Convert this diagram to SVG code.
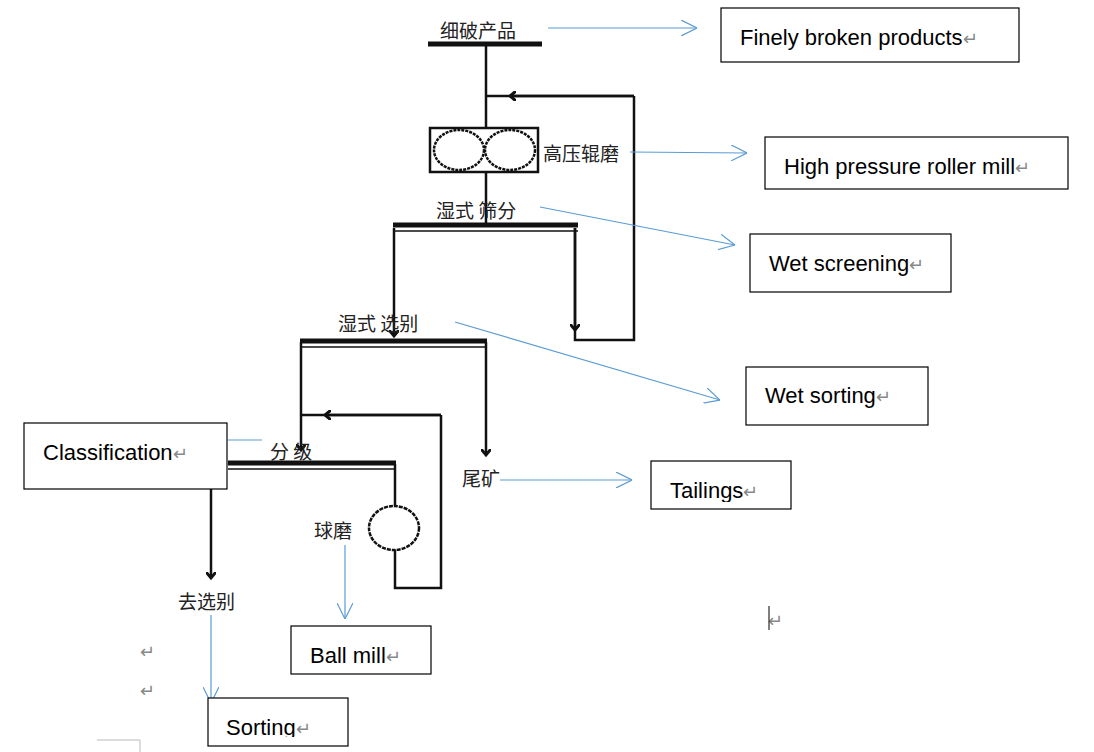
<svg xmlns="http://www.w3.org/2000/svg" width="1094" height="752" viewBox="0 0 1094 752">
<style>
.k{stroke:#111;stroke-width:2.5;fill:none}
.bar{stroke:#111;stroke-width:5}
.c{font-family:"Noto Sans CJK SC",sans-serif;font-size:19px;fill:#222}
.e{font-family:"Liberation Sans",Arial,sans-serif;font-size:22px;fill:#000}
.r{font-family:"Liberation Sans",Arial,sans-serif;font-size:18px;fill:#888}
.b{stroke:#5B9BD5;stroke-width:1.2;fill:none}
.box{fill:#fff;stroke:#000;stroke-width:1.2}
</style>
<defs>
<marker id="a" viewBox="0 0 10 10" refX="6" refY="5" markerWidth="10" markerHeight="10" orient="auto" markerUnits="userSpaceOnUse"><path d="M0,0L6,5L0,10" fill="none" stroke="#111" stroke-width="3"/></marker>
<marker id="o" viewBox="0 0 16 16" refX="16" refY="8" markerWidth="16" markerHeight="16" orient="auto" markerUnits="userSpaceOnUse"><path d="M0,0L16,8L0,16" fill="none" stroke="#5B9BD5" stroke-width="1.2"/></marker>
</defs>
<g id="connectors">
<path class="k" d="M486,44V128M486,172V224"/>
<path class="k" d="M634,96H486" />
<path class="k" d="M634,96H510" marker-end="url(#a)"/>
<path class="k" d="M634,96V340H575V228"/>
<path class="k" d="M575,228V330" marker-end="url(#a)"/>
<path class="k" d="M394,228V336" marker-end="url(#a)"/>
<path class="k" d="M301,342V450" marker-end="url(#a)"/>
<path class="k" d="M486,342V455" marker-end="url(#a)"/>
<path class="k" d="M441,415H301"/>
<path class="k" d="M441,415H325" marker-end="url(#a)"/>
<path class="k" d="M441,415V588H395V550M395,506V464"/>
<path class="k" d="M211,467V578" marker-end="url(#a)"/>
<line class="b" x1="548" y1="28" x2="697" y2="28" marker-end="url(#o)"/>
<line class="b" x1="630" y1="152" x2="747" y2="153" marker-end="url(#o)"/>
<line class="b" x1="540" y1="207" x2="735" y2="245" marker-end="url(#o)"/>
<line class="b" x1="455" y1="322" x2="720" y2="400" marker-end="url(#o)"/>
<line class="b" x1="228" y1="440" x2="262" y2="440"/>
<line class="b" x1="500" y1="480" x2="632" y2="480" marker-end="url(#o)"/>
<line class="b" x1="345" y1="545" x2="345" y2="619" marker-end="url(#o)"/>
<line class="b" x1="211" y1="615" x2="211" y2="703" marker-end="url(#o)"/>
</g>
<g id="n-fine"><line class="bar" x1="428" y1="44" x2="542" y2="44"/><text class="c" x="440" y="38">细破产品</text></g>
<g id="n-hpgr"><rect class="k" x="430" y="128" width="108" height="44" fill="#fff"/><ellipse class="k" cx="459" cy="150" rx="25" ry="20" stroke-dasharray="3 1"/><ellipse class="k" cx="510" cy="150" rx="25" ry="20" stroke-dasharray="3 1"/><text class="c" x="543" y="161">高压辊磨</text></g>
<g id="n-screen"><line class="bar" x1="393" y1="225" x2="578" y2="225"/><line stroke="#111" stroke-width="1.5" x1="394" y1="231" x2="578" y2="231"/><text class="c" x="436" y="218">湿式 筛分</text></g>
<g id="n-sort"><line class="bar" x1="300" y1="341" x2="487" y2="341"/><line stroke="#111" stroke-width="1.5" x1="301" y1="347" x2="486" y2="347"/><text class="c" x="338" y="331">湿式 选别</text></g>
<g id="n-class"><line class="bar" x1="228" y1="463" x2="396" y2="463"/><line stroke="#111" stroke-width="1.5" x1="228" y1="469" x2="395" y2="469"/><text class="c" x="270" y="459">分  级</text></g>
<g id="n-ball"><ellipse class="k" cx="394" cy="528" rx="25" ry="22" stroke-dasharray="4 1"/><text class="c" x="314" y="538">球磨</text></g>
<g id="n-tail"><text class="c" x="462" y="486">尾矿</text></g>
<g id="n-go"><text class="c" x="178" y="609">去选别</text></g>
<g id="b-fine"><rect class="box" x="721" y="8" width="298" height="54"/><text class="e" x="740" y="45">Finely broken products<tspan class="r">↵</tspan></text></g>
<g id="b-hpgr"><rect class="box" x="765" y="137" width="303" height="52"/><text class="e" x="784" y="174">High pressure roller mill<tspan class="r">↵</tspan></text></g>
<g id="b-screen"><rect class="box" x="750" y="234" width="201" height="58"/><text class="e" x="769" y="271">Wet screening<tspan class="r">↵</tspan></text></g>
<g id="b-sort"><rect class="box" x="746" y="367" width="182" height="58"/><text class="e" x="765" y="403">Wet sorting<tspan class="r">↵</tspan></text></g>
<g id="b-class"><rect class="box" x="24" y="423" width="203" height="66"/><text class="e" x="43" y="460">Classification<tspan class="r">↵</tspan></text></g>
<g id="b-tail"><rect class="box" x="651" y="461" width="140" height="48"/><svg x="651" y="461" width="140" height="41" overflow="hidden"><text class="e" x="19" y="37">Tailings<tspan class="r">↵</tspan></text></svg></g>
<g id="b-ball"><rect class="box" x="291" y="626" width="140" height="48"/><text class="e" x="310" y="663">Ball mill<tspan class="r">↵</tspan></text></g>
<g id="b-sorting"><rect class="box" x="208" y="698" width="140" height="48"/><svg x="208" y="698" width="140" height="39" overflow="hidden"><text class="e" x="18" y="37">Sorting<tspan class="r">↵</tspan></text></svg></g>
<text class="r" x="140" y="658">↵</text>
<text class="r" x="140" y="697">↵</text>
<text class="r" x="768" y="627">↵</text>
<line stroke="#000" x1="769" y1="606" x2="769" y2="630"/>
<path d="M97,740H140V752" stroke="#bbb" fill="none"/>
</svg>
